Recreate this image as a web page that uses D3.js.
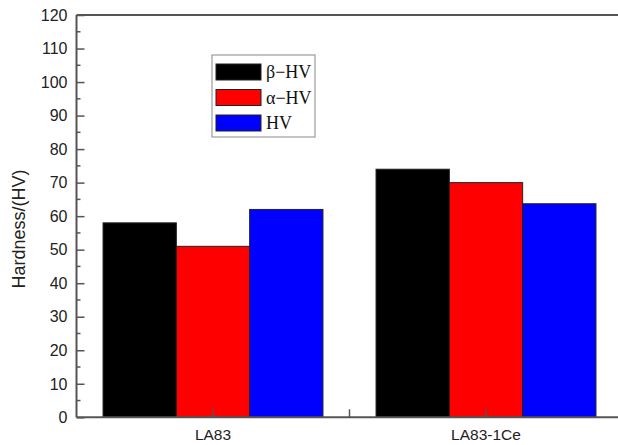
<!DOCTYPE html>
<html>
<head>
<meta charset="utf-8">
<script src="https://cdn.jsdelivr.net/npm/d3@7"></script>
<style>
  body { margin: 0; background: #fff; }
  svg { display: block; }
</style>
</head>
<body>
<svg width="618" height="445"></svg>
<script>
"use strict";

var categories = ['LA83', 'LA83-1Ce'];
var seriesNames = ['β−HV', 'α−HV', 'HV'];
var seriesColors = ['#000000', '#ff0000', '#0000ff'];
var betaHV = [58, 74];
var alphaHV = [51, 70];
var HV = [62, 63.7];
var yTicks = [0, 10, 20, 30, 40, 50, 60, 70, 80, 90, 100, 110, 120];

var seriesValues = [betaHV, alphaHV, HV];

var svg = d3.select('svg');
var axisColor = '#555';

var plotLeft = 76.5, plotTop = 15, plotBottom = 417.3;

var x = d3.scaleBand()
    .domain(categories)
    .range([plotLeft, plotLeft + 546])
    .paddingInner(0)
    .paddingOuter(0);

var inner = d3.scaleBand()
    .domain(seriesNames)
    .range([0, x.bandwidth()])
    .paddingInner(0)
    .paddingOuter(0.362);

var y = d3.scaleLinear().domain([0, 120]).range([plotBottom, plotTop]);

// bars
categories.forEach((c, ci) => {
    var g = svg.append('g').attr('transform', `translate(${x(c)},0)`);
    seriesNames.forEach((s, si) => {
        var v = seriesValues[si][ci];
        g.append('rect')
            .attr('x', inner(s))
            .attr('y', y(v))
            .attr('width', inner.bandwidth())
            .attr('height', y(0) - y(v))
            .attr('fill', seriesColors[si])
            .attr('stroke', '#222')
            .attr('stroke-width', 1);
    });
});

// y axis
var yAxis = d3.axisRight(y).tickValues(yTicks).tickSize(8).tickFormat('');
var gy = svg.append('g').attr('transform', `translate(${plotLeft},0)`).call(yAxis);
gy.select('.domain').remove();
gy.selectAll('line').attr('stroke', axisColor).attr('stroke-width', 1.5);

var minor = d3.range(5, 120, 10);
svg.append('g').selectAll('line').data(minor).join('line')
    .attr('x1', plotLeft).attr('x2', plotLeft + 4)
    .attr('y1', d => y(d)).attr('y2', d => y(d))
    .attr('stroke', axisColor).attr('stroke-width', 1.5);

svg.append('g').selectAll('text').data(yTicks).join('text')
    .attr('x', plotLeft - 9)
    .attr('y', d => y(d))
    .attr('dy', '0.36em')
    .attr('text-anchor', 'end')
    .attr('font-family', 'Liberation Sans, Arial, sans-serif')
    .attr('font-size', 16)
    .attr('fill', '#222')
    .text(d => d);

// x axis ticks (inward)
var xTickPos = categories.map(c => x(c) + x.bandwidth() / 2).concat([x(categories[1])]);
svg.append('g').selectAll('line').data(xTickPos).join('line')
    .attr('x1', d => d).attr('x2', d => d)
    .attr('y1', plotBottom).attr('y2', plotBottom - 8)
    .attr('stroke', axisColor).attr('stroke-width', 1.5);

svg.append('g').selectAll('text').data(categories).join('text')
    .attr('x', c => x(c) + x.bandwidth() / 2)
    .attr('y', 440)
    .attr('text-anchor', 'middle')
    .attr('font-family', 'Liberation Sans, Arial, sans-serif')
    .attr('font-size', 15.5)
    .attr('fill', '#222')
    .text(d => d);

// frame
svg.append('line').attr('x1', plotLeft).attr('x2', 618).attr('y1', plotTop).attr('y2', plotTop)
    .attr('stroke', axisColor).attr('stroke-width', 2);
svg.append('line').attr('x1', plotLeft).attr('x2', 618).attr('y1', plotBottom).attr('y2', plotBottom)
    .attr('stroke', axisColor).attr('stroke-width', 2);
svg.append('line').attr('x1', plotLeft).attr('x2', plotLeft).attr('y1', plotTop).attr('y2', plotBottom)
    .attr('stroke', axisColor).attr('stroke-width', 2);

// y label
svg.append('text')
    .attr('transform', 'translate(25,229) rotate(-90)')
    .attr('text-anchor', 'middle')
    .attr('font-family', 'Liberation Sans, Arial, sans-serif')
    .attr('font-size', 18)
    .attr('fill', '#222')
    .text('Hardness/(HV)');

// legend
var legend = svg.append('g').attr('transform', 'translate(212,55)');
legend.append('rect')
    .attr('width', 103).attr('height', 82)
    .attr('fill', '#fff').attr('stroke', '#888').attr('stroke-width', 1);
seriesNames.forEach((s, i) => {
    var row = legend.append('g').attr('transform', `translate(4,${9 + i * 25.5})`);
    row.append('rect')
        .attr('width', 45).attr('height', 16)
        .attr('fill', seriesColors[i]).attr('stroke', '#222');
    row.append('text')
        .attr('x', 50).attr('y', 14)
        .attr('font-family', 'Liberation Serif, Times New Roman, serif')
        .attr('font-size', 18)
        .attr('fill', '#111')
        .text(s);
});
</script>
</body>
</html>
